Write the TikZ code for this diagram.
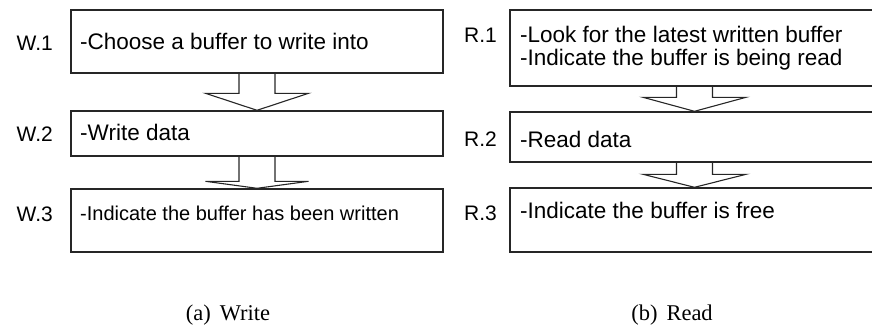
\documentclass[tikz,border=0pt]{standalone}
\usepackage{fontspec}
\setmainfont{Liberation Serif}
\newfontfamily\arialfont{Liberation Sans}
\usetikzlibrary{calc}

% hollow block arrow from the bottom of one box to the top of the next
\newcommand{\blockarrow}[3]{%
  \path ($(#2.north)+(0,-#3)$) coordinate (hb);
  \draw[flow] ($(#1.south)+(-18,0)$) -- ($(hb)+(-18,0)$) -- ($(hb)+(-51.5,0)$)
    -- (#2.north) -- ($(hb)+(51.5,0)$) -- ($(hb)+(18,0)$) -- ($(#1.south)+(18,0)$);
}

\begin{document}
\begin{tikzpicture}[x=1pt, y=-1pt,
    stepbox/.style={draw=black!85, line width=1.4pt, fill=white, inner sep=0pt},
    steptext/.style={anchor=base west, inner sep=0pt, align=left, font=\arialfont\fontsize{22.5}{22}\selectfont},
    steplabel/.style={anchor=base east, inner sep=0pt, font=\arialfont\fontsize{21}{21}\selectfont},
    subcap/.style={anchor=base, inner sep=0pt, font=\fontsize{22.5}{22}\selectfont},
    flow/.style={draw=black!85, line width=1.1pt}
]
\clip (0,0) rectangle (872,329);
% write side
\node[stepbox, minimum width=372pt, minimum height=63pt] (w1) at (257,41.5) {};
\node[stepbox, minimum width=372pt, minimum height=45pt] (w2) at (257,133.5) {};
\node[stepbox, minimum width=372pt, minimum height=63pt] (w3) at (257,220.5) {};
\node[steptext] (w1t) at (80,49) {-Choose a buffer to write into};
\node[steptext] (w2t) at (80,140) {-Write data};
\node[steptext, font=\arialfont\fontsize{20}{20}\selectfont] (w3t) at (80,220) {-Indicate the buffer has been written};
\node[steplabel] (w1l) at (53,51) {W.1};
\node[steplabel] (w2l) at (53,141) {W.2};
\node[steplabel] (w3l) at (53,221) {W.3};
\blockarrow{w1}{w2}{17}
\blockarrow{w2}{w3}{7}
% read side
\node[stepbox, minimum width=369pt, minimum height=76pt] (r1) at (694.5,48) {};
\node[stepbox, minimum width=369pt, minimum height=50pt] (r2) at (694.5,137) {};
\node[stepbox, minimum width=369pt, minimum height=64pt] (r3) at (694.5,220) {};
\node[steptext] (r1t) at (520,65) {-Look for the latest written buffer\\-Indicate the buffer is being read};
\node[steptext] (r2t) at (520,147) {-Read data};
\node[steptext] (r3t) at (520,218) {-Indicate the buffer is free};
\node[steplabel] (r1l) at (497,42) {R.1};
\node[steplabel] (r2l) at (497,146) {R.2};
\node[steplabel] (r3l) at (497,220) {R.3};
\blockarrow{r1}{r2}{14}
\blockarrow{r2}{r3}{13}
% captions
\node[subcap] (capw) at (228,320) {(a)\hspace{9pt}Write};
\node[subcap] (capr) at (672,320) {(b)\hspace{9pt}Read};
\end{tikzpicture}
\end{document}
